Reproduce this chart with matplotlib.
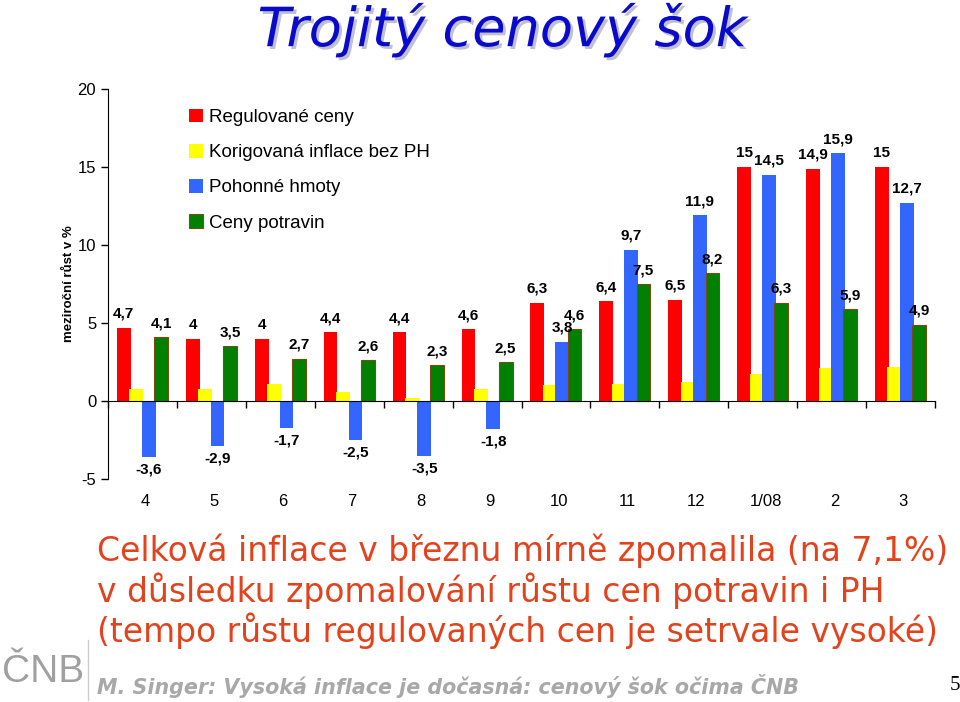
import matplotlib.pyplot as plt
import matplotlib.patheffects as pe
import numpy as np

plt.rcParams['axes.unicode_minus'] = False

# data
mesice = ['4', '5', '6', '7', '8', '9', '10', '11', '12', '1/08', '2', '3']
regulovane = [4.7, 4.0, 4.0, 4.4, 4.4, 4.6, 6.3, 6.4, 6.5, 15.0, 14.9, 15.0]
korigovana = [0.8, 0.8, 1.1, 0.6, 0.2, 0.8, 1.0, 1.1, 1.2, 1.7, 2.1, 2.2]
pohonne = [-3.6, -2.9, -1.7, -2.5, -3.5, -1.8, 3.8, 9.7, 11.9, 14.5, 15.9, 12.7]
potraviny = [4.1, 3.5, 2.7, 2.6, 2.3, 2.5, 4.6, 7.5, 8.2, 6.3, 5.9, 4.9]

nazvy = ['Regulované ceny', 'Korigovaná inflace bez PH', 'Pohonné hmoty', 'Ceny potravin']
barvy = ['#FF0000', '#FFFF00', '#3366FF', '#008000']
popisky = [True, False, True, True]

fig = plt.figure(figsize=(9.6, 7.02), dpi=100)
ax = fig.add_axes([108/960, 1-479/702, 827/960, 390/702])

x = np.arange(len(mesice))
w = 0.2
offs = [-0.27, -0.09, 0.09, 0.27]
rady = [regulovane, korigovana, pohonne, potraviny]

for serie, nazev, barva, off, lab in zip(rady, nazvy, barvy, offs, popisky):
    edge = '#7A4A10' if barva == '#008000' else 'none'
    bars = ax.bar(x + off, serie, w, color=barva, edgecolor=edge, linewidth=0.8, label=nazev)
    if lab:
        for b, v in zip(bars, serie):
            s = ('%g' % v).replace('.', ',')
            if v >= 0:
                ax.annotate(s, (b.get_x() + b.get_width()/2, v), xytext=(0, 5),
                            textcoords='offset points', ha='center', va='bottom',
                            fontsize=11, fontweight='bold', family='Liberation Sans')
            else:
                ax.annotate(s, (b.get_x() + b.get_width()/2, v), xytext=(0, -4),
                            textcoords='offset points', ha='center', va='top',
                            fontsize=11, fontweight='bold', family='Liberation Sans')

ax.set_xlim(-0.5, 11.5)
ax.set_ylim(-5, 20)
ax.set_yticks([-5, 0, 5, 10, 15, 20])
ax.tick_params(axis='y', labelsize=12, length=5, width=1)
for t in ax.get_yticklabels():
    t.set_family('Liberation Sans')
ax.spines['top'].set_visible(False)
ax.spines['right'].set_visible(False)
ax.spines['bottom'].set_position(('data', 0))
ax.set_xticks(np.arange(len(mesice) + 1) - 0.5)
ax.set_xticklabels([])
ax.tick_params(axis='x', direction='out', length=5, width=1)

for xi, m in zip(x, mesice):
    ax.text(xi + 0.04, -0.058, m, transform=ax.get_xaxis_transform(), ha='center', va='center',
            fontsize=12, family='Liberation Sans')

ax.set_ylabel('meziroční růst v %', fontsize=9.5, fontweight='bold', family='Liberation Sans', labelpad=2)

leg = ax.legend(loc='upper left', bbox_to_anchor=(0.077, 0.993), frameon=False,
                prop={'family': 'Liberation Sans', 'size': 13.5},
                handlelength=0.75, handleheight=0.75, handletextpad=0.35, labelspacing=0.95)

fig.text(0.523, 0.957, 'Trojitý cenový šok', ha='center', va='center', fontsize=39,
         style='italic', color='#0A0ACC',
         path_effects=[pe.withSimplePatchShadow(offset=(2, -2), shadow_rgbFace='#9999AA', alpha=0.6)])

txt = ['Celková inflace v březnu mírně zpomalila (na 7,1%)',
       'v důsledku zpomalování růstu cen potravin i PH',
       '(tempo růstu regulovaných cen je setrvale vysoké)']
for i, t in enumerate(txt):
    fig.text(97/960, 1 - (551 + 40*i)/702, t, ha='left', va='center', fontsize=23.8, color='#E2421C')

fig.text(97/960, 1 - 686/702, 'M. Singer: Vysoká inflace je dočasná: cenový šok očima ČNB',
         ha='left', va='center', fontsize=14.9, style='italic', fontweight='bold', color='#A8A8A8')
fig.text(955/960, 1 - 686/702, '5', ha='center', va='center', fontsize=15, family='Liberation Serif')
fig.text(2/960, 1 - 672/702, 'ČNB', ha='left', va='center', fontsize=28, color='#A0A0A0',
         family='Liberation Sans')
fig.add_artist(plt.Line2D([88/960, 88/960], [1-640/702, 1-700/702], color='#CCCCCC', lw=1))

fig.savefig('out.png', dpi=100)
